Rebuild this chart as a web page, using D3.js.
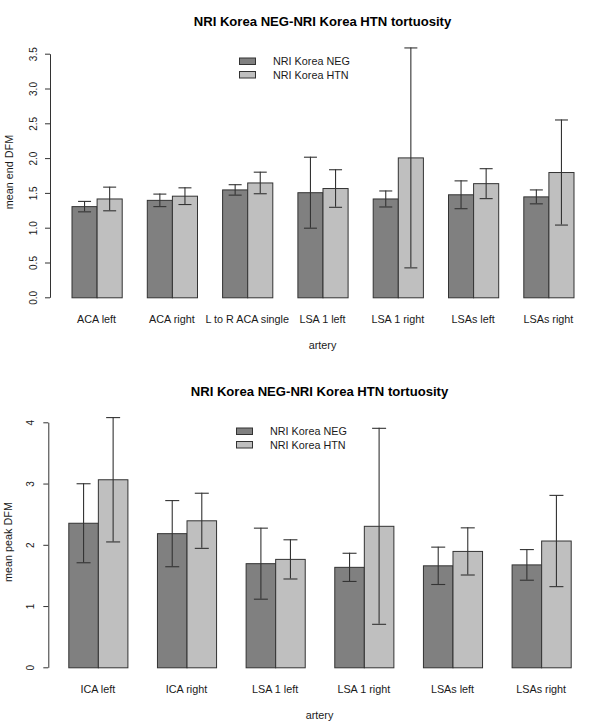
<!DOCTYPE html>
<html>
<head>
<meta charset="utf-8">
<script src="https://cdn.jsdelivr.net/npm/d3@7/dist/d3.min.js"></script>
<style>
  html, body { margin: 0; padding: 0; background: #fff; }
  svg { display: block; font-family: "Liberation Sans", Arial, sans-serif; }
</style>
</head>
<body>
<svg id="chart" width="600" height="726"></svg>
<script>
// ---------- DATA ----------
const seriesNames = ["NRI Korea NEG", "NRI Korea HTN"];
const chartTitle = "NRI Korea NEG-NRI Korea HTN tortuosity";
const xAxisTitle = "artery";

// Chart 1: mean end DFM
const endCategories = ["ACA left", "ACA right", "L to R ACA single", "LSA 1 left", "LSA 1 right", "LSAs left", "LSAs right"];
const endNeg    = [1.31, 1.40, 1.55, 1.51, 1.42, 1.48, 1.45];
const endNegErr = [0.075, 0.09, 0.075, 0.51, 0.115, 0.20, 0.10];
const endHtn    = [1.42, 1.46, 1.65, 1.57, 2.01, 1.64, 1.80];
const endHtnErr = [0.17, 0.12, 0.155, 0.27, 1.58, 0.215, 0.755];
const endTicks = [0, 0.5, 1, 1.5, 2, 2.5, 3, 3.5];
const endTickLabels = ["0.0", "0.5", "1.0", "1.5", "2.0", "2.5", "3.0", "3.5"];
const endYTitle = "mean end DFM";

// Chart 2: mean peak DFM
const peakCategories = ["ICA left", "ICA right", "LSA 1 left", "LSA 1 right", "LSAs left", "LSAs right"];
const peakNeg    = [2.36, 2.19, 1.70, 1.64, 1.665, 1.68];
const peakNegErr = [0.645, 0.54, 0.58, 0.23, 0.305, 0.25];
const peakHtn    = [3.07, 2.40, 1.77, 2.31, 1.90, 2.07];
const peakHtnErr = [1.015, 0.45, 0.32, 1.60, 0.385, 0.745];
const peakTicks = [0, 1, 2, 3, 4];
const peakTickLabels = ["0", "1", "2", "3", "4"];
const peakYTitle = "mean peak DFM";

// ---------- STYLE ----------
const fills = ["#808080", "#bfbfbf"];
const strokeCol = "#333";
const textCol = "#1a1a1a";

const svg = d3.select("#chart");

function drawChart(cfg) {
  const g = svg.append("g");
  const x0 = d3.scaleBand().domain(cfg.categories).range(cfg.xRange)
    .paddingInner(1/3).paddingOuter(0);
  const x1 = d3.scaleBand().domain([0, 1]).range([0, x0.bandwidth()]);
  const y = d3.scaleLinear().domain(cfg.yDomain).range(cfg.yRange);

  const rows = cfg.categories.map((c, i) => ({
    cat: c,
    vals: [
      {s: 0, v: cfg.neg[i], e: cfg.negErr[i]},
      {s: 1, v: cfg.htn[i], e: cfg.htnErr[i]}
    ]
  }));

  const grp = g.selectAll("g.grp").data(rows).join("g")
    .attr("transform", d => `translate(${x0(d.cat)},0)`);

  grp.selectAll("rect").data(d => d.vals).join("rect")
    .attr("x", d => x1(d.s) + 0.5)
    .attr("width", x1.bandwidth())
    .attr("y", d => y(d.v) + 0.5)
    .attr("height", d => y(0) - y(d.v))
    .attr("fill", d => fills[d.s])
    .attr("stroke", strokeCol)
    .attr("stroke-width", 1);

  const eb = grp.selectAll("g.eb").data(d => d.vals).join("g")
    .attr("stroke", strokeCol).attr("stroke-width", 1.1);
  const cx = d => x1(d.s) + x1.bandwidth() / 2 + 0.5;
  eb.append("line")
    .attr("x1", cx).attr("x2", cx)
    .attr("y1", d => y(d.v + d.e)).attr("y2", d => y(d.v - d.e));
  eb.append("line")
    .attr("x1", d => cx(d) - cfg.cap / 2).attr("x2", d => cx(d) + cfg.cap / 2)
    .attr("y1", d => y(d.v + d.e) + 0.5).attr("y2", d => y(d.v + d.e) + 0.5);
  eb.append("line")
    .attr("x1", d => cx(d) - cfg.cap / 2).attr("x2", d => cx(d) + cfg.cap / 2)
    .attr("y1", d => y(d.v - d.e) + 0.5).attr("y2", d => y(d.v - d.e) + 0.5);

  // Y axis
  const ax = g.append("g").attr("transform", `translate(${cfg.axisX},0)`)
    .call(d3.axisLeft(y).tickValues(cfg.ticks)
      .tickFormat((d, i) => cfg.tickLabels[i])
      .tickSize(5).tickSizeOuter(0));
  ax.select(".domain").attr("stroke", strokeCol);
  ax.selectAll(".tick line").attr("stroke", strokeCol);
  ax.selectAll(".tick text")
    .attr("x", null).attr("dy", null)
    .attr("transform", `translate(${-cfg.tickLabelOff},0) rotate(-90)`)
    .attr("text-anchor", "middle")
    .attr("font-size", 10).attr("fill", textCol)
    .attr("font-family", "Liberation Sans, Arial, sans-serif");

  // Category labels
  g.selectAll("text.cat").data(cfg.categories).join("text")
    .attr("x", d => x0(d) + x0.bandwidth() / 2)
    .attr("y", cfg.catY)
    .attr("text-anchor", "middle")
    .attr("font-size", 10.8).attr("fill", textCol)
    .text(d => d);

  // Axis titles
  g.append("text").attr("x", cfg.centerX).attr("y", cfg.xTitleY)
    .attr("text-anchor", "middle").attr("font-size", 10.8).attr("fill", textCol)
    .text(xAxisTitle);
  g.append("text")
    .attr("transform", `translate(${cfg.yTitleX},${cfg.yTitleY}) rotate(-90)`)
    .attr("text-anchor", "middle").attr("font-size", 10.8).attr("fill", textCol)
    .text(cfg.yTitle);

  // Title
  g.append("text").attr("x", cfg.centerX).attr("y", cfg.titleY)
    .attr("text-anchor", "middle").attr("font-size", 13.1)
    .attr("font-weight", "bold").attr("fill", "#000")
    .text(chartTitle);

  // Legend
  const lg = g.append("g").selectAll("g").data(seriesNames).join("g")
    .attr("transform", (d, i) => `translate(${cfg.legX},${cfg.legY + i * 13.5})`);
  lg.append("rect").attr("x", 0.5).attr("y", 0.5).attr("width", 16).attr("height", 6.5)
    .attr("fill", (d, i) => fills[i]).attr("stroke", strokeCol).attr("stroke-width", 1);
  lg.append("text").attr("x", 34).attr("y", 7.5)
    .attr("font-size", 10.8).attr("fill", textCol).text(d => d);
}

drawChart({
  categories: endCategories, neg: endNeg, negErr: endNegErr, htn: endHtn, htnErr: endHtnErr,
  ticks: endTicks, tickLabels: endTickLabels, yTitle: endYTitle,
  xRange: [71.5, 573.5], yDomain: [0, 3.5], yRange: [297.3, 53.7],
  axisX: 50, tickLabelOff: 13.5, cap: 13,
  catY: 323, xTitleY: 348.5, centerX: 322.5, yTitleX: 12.5, yTitleY: 172,
  titleY: 26, legX: 239, legY: 57.5
});

drawChart({
  categories: peakCategories, neg: peakNeg, negErr: peakNegErr, htn: peakHtn, htnErr: peakHtnErr,
  ticks: peakTicks, tickLabels: peakTickLabels, yTitle: peakYTitle,
  xRange: [68.3, 570.7], yDomain: [0, 4], yRange: [667.3, 422.3],
  axisX: 48.3, tickLabelOff: 14.3, cap: 14,
  catY: 693, xTitleY: 718.5, centerX: 319.5, yTitleX: 11.5, yTitleY: 542,
  titleY: 396, legX: 236, legY: 427.5
});
</script>
</body>
</html>
